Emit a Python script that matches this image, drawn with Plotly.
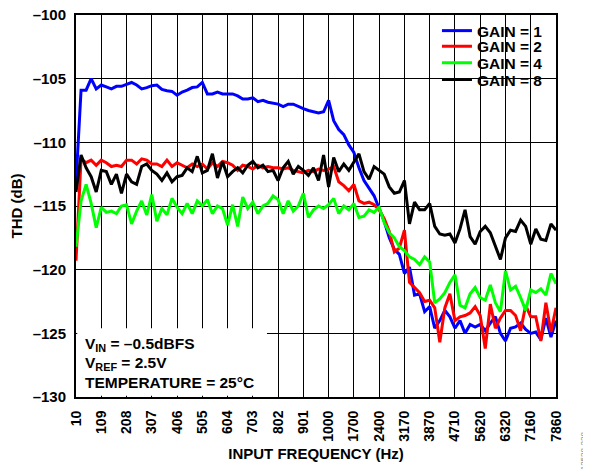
import plotly.graph_objects as go

# x positions are category-index positions along the evenly spaced frequency ticks
X_POS = [round(0.2 * i, 1) for i in range(96)]

TICK_LABELS = ["10", "109", "208", "307", "406", "505", "604", "703", "802", "901",
               "1000", "1700", "2400", "3170", "3870", "4710", "5620", "6320", "7160", "7860"]
Y_TICKS = [-130, -125, -120, -115, -110, -105, -100]
Y_TICK_TEXT = ["–130", "–125", "–120", "–115", "–110", "–105", "–100"]

GAIN_1 = [-113.2, -105.9, -105.9, -105.0, -105.8, -105.5, -105.65, -105.8, -105.6, -105.6,
          -105.45, -105.3, -105.5, -105.8, -105.7, -105.55, -105.5, -105.85, -105.95, -106.0,
          -106.3, -106.05, -105.9, -105.7, -105.65, -105.3, -106.2, -106.2, -106.05, -106.2,
          -106.2, -106.2, -106.35, -106.6, -106.6, -106.5, -106.8, -106.7, -106.85, -106.9,
          -107.0, -107.2, -107.0, -107.0, -107.2, -107.35, -107.5, -107.6, -107.7, -107.6,
          -106.7, -108.3, -109.0, -109.4, -110.2, -110.8, -112.0, -113.0, -113.6, -114.2,
          -115.2, -116.2, -117.5, -118.4, -118.8, -120.3, -119.8, -122.0, -121.9, -123.3,
          -122.9, -124.6, -124.0, -123.2, -123.7, -124.6, -124.0, -125.0, -124.3, -124.5,
          -124.3, -124.8, -124.2, -123.7, -125.0, -125.6, -124.6, -124.5, -124.2, -124.7,
          -125.0, -124.9, -125.5, -123.8, -125.3, -124.0]

GAIN_2 = [-119.3, -111.3, -111.6, -111.4, -111.8, -111.4, -111.6, -111.9, -111.8, -111.9,
          -111.4, -111.4, -111.7, -111.3, -111.4, -111.7, -111.7, -111.9, -111.4, -111.9,
          -111.6, -111.8, -112.0, -111.7, -111.9, -111.7, -112.1, -111.6, -111.9, -111.5,
          -111.6, -111.8, -112.2, -111.8, -111.9, -112.1, -111.8, -112.0, -111.9, -112.0,
          -112.0, -112.1, -112.0, -112.2, -112.3, -112.4, -112.2, -112.3, -112.1, -112.2,
          -112.1, -111.9, -113.1, -113.4, -113.8, -113.3, -114.6, -114.8, -114.7, -114.9,
          -115.3, -116.0, -117.0, -118.6, -118.3, -116.9, -121.0, -121.4, -121.8, -122.5,
          -122.4, -123.0, -125.7, -123.0, -121.9, -124.0, -123.7, -123.6, -123.4, -122.9,
          -123.6, -126.2, -122.7, -124.6, -123.8, -123.2, -123.2, -123.6, -124.8, -122.8,
          -123.7, -123.7, -125.6, -122.6, -124.9, -123.0]

GAIN_4 = [-118.2, -114.6, -113.3, -114.8, -116.7, -115.1, -115.5, -115.4, -115.6, -115.0,
          -114.9, -116.4, -115.4, -114.6, -115.7, -114.1, -116.2, -115.2, -115.7, -114.4,
          -115.1, -115.6, -114.8, -115.6, -114.6, -115.0, -114.5, -115.6, -115.0, -115.2,
          -116.5, -114.9, -116.6, -114.3, -115.2, -114.7, -115.6, -115.0, -114.8, -114.2,
          -114.5, -115.6, -114.6, -115.4, -115.0, -114.0, -115.9, -115.3, -115.0, -115.2,
          -114.9, -114.4, -115.6, -115.0, -115.3, -114.8, -115.9, -115.8, -115.3, -115.5,
          -115.1, -116.3, -117.1, -117.5, -118.2, -118.5, -119.0, -119.2, -119.6, -119.0,
          -119.4, -122.6, -122.3, -121.8, -121.0, -120.4, -122.8, -123.0, -121.9, -121.4,
          -122.2, -122.4, -121.2, -122.6, -123.3, -120.1, -121.6, -121.3, -122.2, -123.2,
          -121.6, -121.8, -121.5, -122.0, -120.3, -121.1]

GAIN_8 = [-113.9, -111.0, -112.0, -112.7, -113.9, -112.2, -112.3, -113.3, -112.5, -114.0,
          -112.5, -113.1, -113.3, -111.9, -111.7, -112.2, -112.5, -113.0, -112.4, -113.1,
          -112.7, -112.6, -112.0, -112.3, -111.1, -112.4, -112.2, -110.9, -112.8, -111.5,
          -112.7, -112.3, -112.0, -112.4, -111.8, -111.5, -112.0, -111.8, -112.3, -112.2,
          -113.0, -112.0, -111.5, -112.5, -111.9, -112.2, -112.6, -112.0, -113.0, -111.0,
          -113.5, -111.2, -112.3, -111.7, -112.2, -111.6, -110.9, -112.3, -112.9, -111.9,
          -112.2, -112.5, -113.5, -114.0, -113.9, -113.0, -116.4, -114.7, -115.3, -115.3,
          -114.8, -116.6, -117.2, -117.3, -117.2, -117.9, -116.8, -115.3, -117.4, -118.0,
          -117.0, -116.6, -117.1, -118.2, -119.2, -117.5, -116.9, -117.0, -116.1, -116.6,
          -118.0, -116.8, -117.6, -117.7, -116.4, -116.9]

SERIES = [("GAIN = 1", GAIN_1, "#0000FF"),
          ("GAIN = 2", GAIN_2, "#FF0000"),
          ("GAIN = 4", GAIN_4, "#00FF00"),
          ("GAIN = 8", GAIN_8, "#000000")]

FONT = "Liberation Sans, Arial, sans-serif"
LEGEND_NAMES = ["legend", "legend2", "legend3", "legend4"]
LEGEND_Y = [0.958, 0.917, 0.874, 0.830]

fig = go.Figure()
for (name, vals, color), lg in zip(SERIES, LEGEND_NAMES):
    fig.add_trace(go.Scatter(x=X_POS, y=vals, mode="lines", name=name, legend=lg,
                             line=dict(color=color, width=3)))

# white box behind the legend (hides grid lines)
fig.add_shape(type="rect", xref="paper", yref="paper", x0=0.733, x1=0.998, y0=0.785, y1=0.997,
              fillcolor="white", line=dict(width=0), layer="between")
# white box behind the conditions text (hides grid lines)
fig.add_shape(type="rect", xref="x", yref="y", x0=0.05, x1=7.56, y0=-129.9, y1=-124.6,
              fillcolor="white", line=dict(width=0), layer="between")

cond_lines = ["V<sub>IN</sub> = –0.5dBFS", "V<sub>REF</sub> = 2.5V", "TEMPERATURE = 25°C"]
for i, txt in enumerate(cond_lines):
    fig.add_annotation(x=0.014, xref="paper", y=-125.85 - i * 1.5, yref="y",
                       text=txt, showarrow=False, xanchor="left", yanchor="middle",
                       font=dict(family=FONT, size=15.5, color="black", weight="bold"))

fig.add_annotation(x=1.058, xref="paper", y=-0.14, yref="paper", text="12528-228",
                   textangle=-90, showarrow=False, xanchor="center", yanchor="middle",
                   font=dict(family=FONT, size=8, color="#888888"))

legend_common = dict(xanchor="left", yanchor="middle", bgcolor="rgba(0,0,0,0)",
                     borderwidth=0, itemwidth=30,
                     font=dict(family=FONT, size=15.5, color="black", weight="bold"))
legend_layout = {lg: dict(x=0.752, y=ly, **legend_common)
                 for lg, ly in zip(LEGEND_NAMES, LEGEND_Y)}

# the page body adds an 8px offset; figure size and margins compensate for it
fig.update_layout(
    width=583, height=461,
    margin=dict(l=68, r=35, t=7, b=72, autoexpand=False),
    paper_bgcolor="white", plot_bgcolor="white",
    showlegend=True,
    xaxis=dict(range=[0, 19], tickvals=list(range(len(TICK_LABELS))), ticktext=TICK_LABELS,
               tickangle=-90, showgrid=True, gridcolor="black", gridwidth=1,
               showline=True, linecolor="black", linewidth=2, mirror=True,
               zeroline=False, ticks="", ticklabelstandoff=6, automargin=False,
               ticklabeloverflow="allow",
               tickfont=dict(family=FONT, size=14, color="black", weight="bold"),
               title=dict(text="INPUT FREQUENCY (Hz)", standoff=8,
                          font=dict(family=FONT, size=15, color="black", weight="bold"))),
    yaxis=dict(range=[-130, -100], tickvals=Y_TICKS, ticktext=Y_TICK_TEXT,
               showgrid=True, gridcolor="black", gridwidth=1,
               showline=True, linecolor="black", linewidth=2, mirror=True,
               zeroline=False, ticks="", ticklabelstandoff=5, automargin=False,
               ticklabeloverflow="allow",
               tickfont=dict(family=FONT, size=15, color="black", weight="bold"),
               title=dict(text="THD (dB)", standoff=8,
                          font=dict(family=FONT, size=15, color="black", weight="bold"))),
    **legend_layout,
)

fig.write_html("out.html")
